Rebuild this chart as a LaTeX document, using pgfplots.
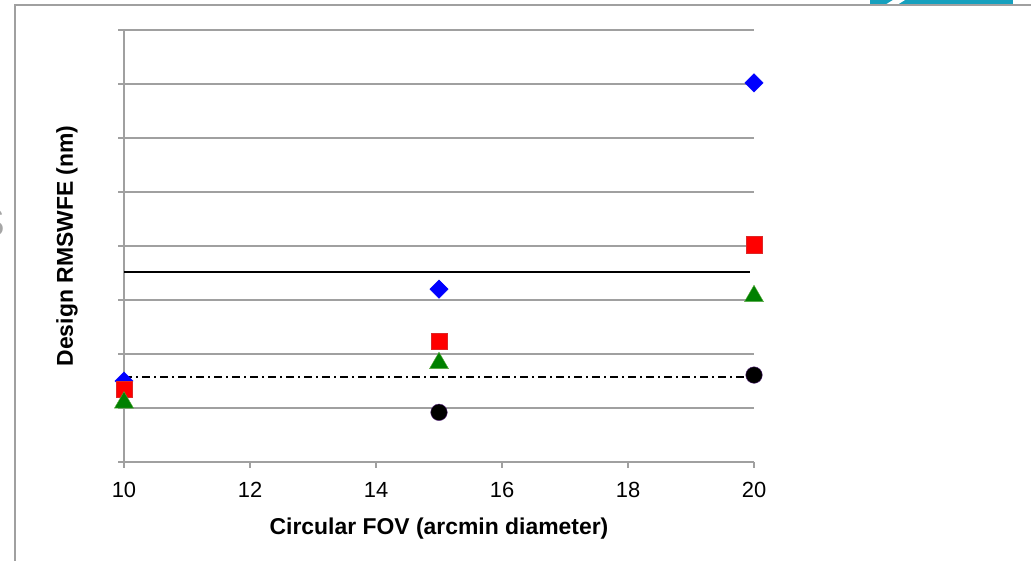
\documentclass[border=0pt]{standalone}
\usepackage{pgfplots}
\pgfplotsset{compat=1.18}
\usepackage{fontspec}
\setmainfont{Liberation Sans}
\definecolor{gridgray}{RGB}{160,160,160}
\definecolor{mgreen}{RGB}{0,128,0}
\definecolor{teal1}{RGB}{22,160,190}
\begin{document}
\begin{tikzpicture}[x=1bp,y=1bp]
\useasboundingbox (0,0) rectangle (1031,561);
% slide remnants
\fill[teal1] (870,557) rectangle (1013,561);
\fill[white] (885,556) -- (893,561) -- (905,561) -- (897,556) -- cycle;
\draw[gridgray,line width=1.2bp] (15,0) -- (15,556) -- (1031,556);
\node[text=gray!70,font=\fontsize{40}{40}\selectfont,anchor=center] at (-8,338) {S};
\begin{axis}[
  at={(124bp,99bp)}, anchor=south west,
  scale only axis, width=630bp, height=432bp,
  xmin=10, xmax=20, ymin=0, ymax=8,
  xtick={10,12,...,20},
  ytick={0,1,...,8}, yticklabels={},
  axis x line*=bottom, axis y line*=left,
  axis line style={gridgray,line width=1.4bp,-},
  tick style={gridgray,line width=1.4bp},
  tick align=outside, major tick length=6bp,
  ymajorgrids, grid style={gridgray,line width=1.4bp},
  clip=false,
  /pgf/number format/assume math mode=true,
  ticklabel style={font=\fontsize{22}{22}\selectfont},
  xticklabel style={yshift=-11bp},
  xlabel={\textbf{Circular FOV (arcmin diameter)}},
  ylabel={\textbf{Design RMSWFE (nm)}},
  label style={font=\fontsize{23}{23}\selectfont},
  xlabel style={yshift=-13bp},
  ylabel style={yshift=30bp},
]
\addplot[black,line width=1.4bp] coordinates {(10,3.52) (19.93,3.52)};
\addplot[black,line width=1.5bp,dash pattern=on 8bp off 4bp on 2bp off 4bp] coordinates {(10,1.57) (20,1.57)};
\addplot[only marks,mark=*,mark size=8.3bp,mark options={fill=black,draw={rgb,255:red,90;green,40;blue,130}}] coordinates {(15,0.92) (20,1.61)};
\addplot[only marks,mark=square*,mark size=6.5bp,mark options={rotate=45,fill=blue,draw=blue}] coordinates {(10,1.5) (15,3.2) (20,7.02)};
\addplot[only marks,mark=square*,mark size=8.3bp,mark options={fill=red,draw={rgb,255:red,220;green,40;blue,40}}] coordinates {(10,1.35) (15,2.24) (20,4.02)};
\addplot[only marks,mark=triangle*,mark size=11bp,mark options={fill=mgreen,draw={rgb,255:red,90;green,170;blue,60}}] coordinates {(10,1.10) (15,1.83) (20,3.07)};
\end{axis}
\end{tikzpicture}
\end{document}
